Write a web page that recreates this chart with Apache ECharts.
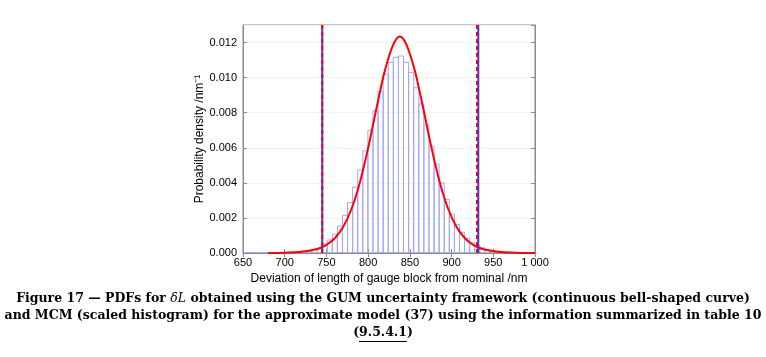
<!DOCTYPE html>
<html>
<head>
<meta charset="utf-8">
<script src="https://cdn.jsdelivr.net/npm/echarts@6/dist/echarts.min.js"></script>
<style>
html,body{margin:0;padding:0;background:#fff;}
#chart{width:766px;height:357px;}
</style>
</head>
<body>
<div id="chart"></div>
<script>
// ---- data ----
// MCM scaled histogram: first bin left edge (nm), bin width (nm), bin heights (/nm)
const histFirstEdge = 653.3;
const histBinWidth = 6.1;
const histHeights = [
  0.00001,0.00001,0.00001,0.00001,0.00001,0.00001,0.00002,0.00002,
  0.00003,0.00004,0.00006,0.00009,0.00013,0.00019,0.00027,
  0.0005,0.00074,0.00107,0.00154,0.00215,0.00287,0.00375,0.00473,0.00583,0.0070,
  0.0081,0.0092,0.0102,0.01087,0.01116,0.01123,0.01087,0.0103,0.00942,0.0085,
  0.0073,0.0061,0.00507,0.0040,0.00306,0.00222,0.00163,0.00118,0.00084,0.00057,0.00042,
  0.0003,0.0002,0.00013,0.00009,0.00006,0.00004,0.00003,0.00002,0.00001,0.00001
];
// GUM curve (nm, /nm)
const gumX = [680,700,720,740,750,760,770,780,790,800,810,820,830,838,846,856,866,876,886,896,906,916,926,936,956,976,1000];
const gumY = [0.000005,0.000017,0.000066,0.00024,0.00046,0.00084,0.00148,0.00251,0.00401,0.00599,0.00825,0.01039,0.01187,0.01235,0.01187,0.01039,0.00825,0.00599,0.00401,0.00251,0.00148,0.00084,0.00046,0.00024,0.000066,0.000017,0.000004];
// 99 % coverage interval endpoints (nm)
const gumInterval = [745, 930.5];
const mcmInterval = [745, 932];
// axes
const xMin = 650, xMax = 1000, xStep = 50;
const yMin = 0, yMax = 0.013, yStep = 0.002;
const xTitle = 'Deviation of length of gauge block from nominal /nm';
const yTitle = 'Probability density /nm\u207B\u00B9';
// caption
const capLine1a = 'Figure 17 — PDFs for ';
const capLine1b = 'δL';
const capLine1c = ' obtained using the GUM uncertainty framework (continuous bell-shaped curve)';
const capLine2 = 'and MCM (scaled histogram) for the approximate model (37) using the information summarized in table 10';
const capRef = '9.5.4.1';

const histData = histHeights.map((h, i) => [histFirstEdge + i * histBinWidth, histFirstEdge + (i + 1) * histBinWidth, h]);
const gumData = gumX.map((x, i) => [x, gumY[i]]);

const axisColor = '#8a8a8a';
const font = 'Liberation Sans';
const capFont = 'DejaVu Serif';
const capSize = 12.5;

// measure caption reference text for the underline
const mctx = document.createElement('canvas').getContext('2d');
mctx.font = 'bold ' + capSize + 'px "' + capFont + '"';
const wFull = mctx.measureText('(' + capRef + ')').width;
const wOpen = mctx.measureText('(').width;
const wRef = mctx.measureText(capRef).width;
const ulX1 = 766 / 2 - wFull / 2 + wOpen;

function vline(x, color, type, z) {
  return {
    type: 'line', data: [[x, yMin], [x, yMax]], showSymbol: false, silent: true,
    lineStyle: {color: color, width: 2, type: type}, z: z, animation: false
  };
}

const chart = echarts.init(document.getElementById('chart'), null, {renderer: 'canvas'});
chart.setOption({
  animation: false,
  backgroundColor: '#fff',
  grid: {left: 243, top: 25, width: 292, height: 228, show: true, borderColor: axisColor, borderWidth: 1, backgroundColor: 'transparent'},
  xAxis: [{
    type: 'value', min: xMin, max: xMax, interval: xStep,
    name: xTitle, nameLocation: 'middle', nameGap: 13,
    nameTextStyle: {fontFamily: font, fontSize: 12, color: '#000'},
    axisLine: {show: true, lineStyle: {color: axisColor}},
    axisTick: {show: true, inside: true, length: 4, lineStyle: {color: axisColor}},
    axisLabel: {fontFamily: font, fontSize: 11, color: '#000', margin: 4,
      formatter: v => v === 1000 ? '1 000' : String(v)},
    splitLine: {show: false}
  }, {
    type: 'value', position: 'top', min: xMin, max: xMax, interval: xStep,
    axisLine: {show: true, lineStyle: {color: axisColor}},
    axisTick: {show: true, inside: true, length: 4, lineStyle: {color: axisColor}},
    axisLabel: {show: false}, splitLine: {show: false}
  }],
  yAxis: [{
    type: 'value', min: yMin, max: yMax, interval: yStep,
    name: yTitle, nameLocation: 'middle', nameGap: 31,
    nameTextStyle: {fontFamily: font, fontSize: 12, color: '#000'},
    axisLine: {show: true, lineStyle: {color: axisColor}},
    axisTick: {show: true, inside: true, length: 4, lineStyle: {color: axisColor}},
    axisLabel: {fontFamily: font, fontSize: 11, color: '#000', margin: 6, showMaxLabel: false,
      formatter: v => v.toFixed(3)},
    splitLine: {show: true, lineStyle: {color: '#f3f3f3', width: 1}}
  }, {
    type: 'value', position: 'right', min: yMin, max: yMax, interval: yStep,
    axisLine: {show: true, lineStyle: {color: axisColor}},
    axisTick: {show: true, inside: true, length: 4, lineStyle: {color: axisColor}},
    axisLabel: {show: false}, splitLine: {show: false}
  }],
  series: [
    {
      type: 'custom', clip: true, z: 2,
      data: histData,
      encode: {x: [0, 1], y: 2},
      renderItem: function (params, api) {
        const p0 = api.coord([api.value(0), api.value(2)]);
        const p1 = api.coord([api.value(1), 0]);
        return {
          type: 'rect',
          shape: {x: p0[0], y: p0[1], width: p1[0] - p0[0], height: p1[1] - p0[1]},
          style: {fill: 'rgba(0,0,0,0)', stroke: '#a3a3ff', lineWidth: 1}
        };
      }
    },
    {
      type: 'line', data: gumData, smooth: 0.35, showSymbol: false, z: 5,
      lineStyle: {color: '#ff0000', width: 2}
    },
    vline(mcmInterval[0], '#3a3aff', 'solid', 6),
    vline(mcmInterval[1], '#3a3aff', 'solid', 6),
    vline(gumInterval[0], '#ff0000', [4, 3], 7),
    vline(gumInterval[1], '#ff0000', [4, 3], 7)
  ],
  graphic: [
    {
      type: 'text', left: 'center', top: 292,
      style: {
        text: '{b|' + capLine1a + '}{i|' + capLine1b + '}{b|' + capLine1c + '}',
        rich: {
          b: {fontFamily: capFont, fontSize: capSize, fontWeight: 'bold', fill: '#000'},
          i: {fontFamily: capFont, fontSize: capSize, fontStyle: 'italic', fill: '#000'}
        }
      }
    },
    {
      type: 'text', left: 'center', top: 309,
      style: {
        text: capLine2,
        fontFamily: capFont, fontSize: capSize, fontWeight: 'bold', fill: '#000'
      }
    },
    {
      type: 'text', left: 'center', top: 326,
      style: {
        text: '(' + capRef + ')',
        fontFamily: capFont, fontSize: capSize, fontWeight: 'bold', fill: '#000'
      }
    },
    {
      type: 'line', shape: {x1: ulX1, y1: 341.5, x2: ulX1 + wRef, y2: 341.5},
      style: {stroke: '#000', lineWidth: 1}
    }
  ]
});
</script>
</body>
</html>
